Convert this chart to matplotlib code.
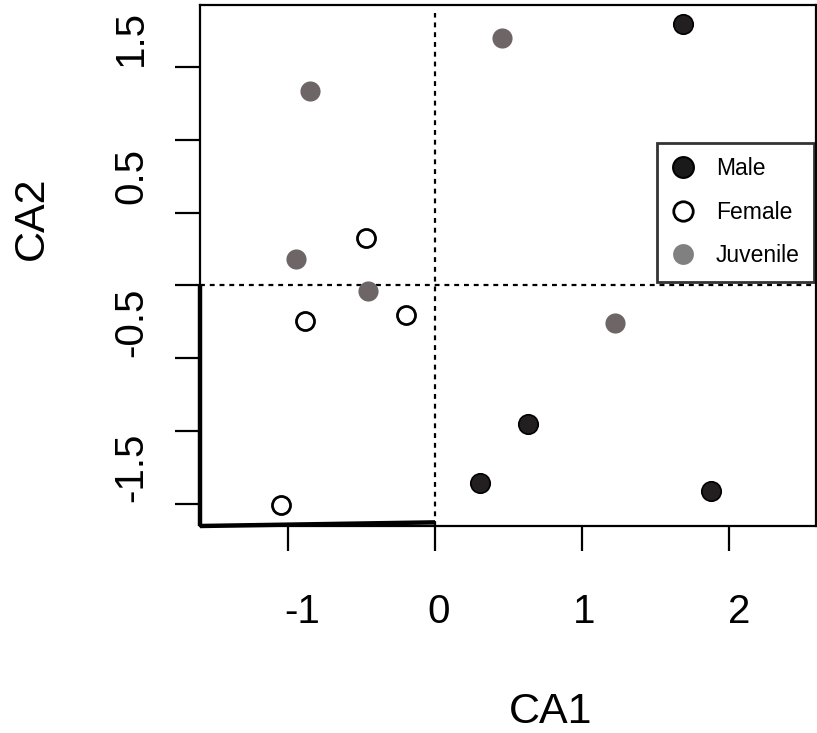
import matplotlib
matplotlib.use("Agg")
import matplotlib.pyplot as plt
from matplotlib.lines import Line2D
from matplotlib.transforms import ScaledTranslation

plt.rcParams['font.family'] = ['Liberation Sans', 'DejaVu Sans']

# ---- data ----
male_x = [1.687, 0.633, 0.306, 1.878]
male_y = [1.795, -0.951, -1.356, -1.410]
female_x = [-0.469, -0.884, -0.197, -1.048]
female_y = [0.326, -0.244, -0.202, -1.507]
juv_x = [-0.850, 0.456, -0.946, -0.456, 1.224]
juv_y = [1.335, 1.699, 0.182, -0.038, -0.257]

xtick_values = [-1, 0, 1, 2]
xtick_labels = ['-1', '0', '1', '2']
ytick_marks = [1.5, 1.0, 0.5, 0.0, -0.5, -1.0, -1.5]
ytick_label_pos = [1.70, 0.75, -0.25, -1.25]
ytick_labels = ['1.5', '0.5', '-0.5', '-1.5']
legend_labels = ['Male', 'Female', 'Juvenile']

fig = plt.figure(figsize=(8.17, 7.33), dpi=100)
W, H = 817, 733
ax = fig.add_axes([200 / W, 1 - 526 / H, (816 - 200) / W, (526 - 5) / H])
ax.set_xlim(-1.599, 2.592)
ax.set_ylim(-1.651, 1.925)

for s in ax.spines.values():
    s.set_linewidth(1.6)
    s.set_color('black')

# reference dashed lines
ax.axhline(0, color='black', lw=1.6, ls=(0, (2.2, 2.2)), zorder=1)
ax.axvline(0, color='black', lw=1.6, ls=(0, (2.2, 2.2)), ymin=0, ymax=0.985, zorder=1)

# thicker hand-drawn axis segments
xl, yl = ax.get_xlim(), ax.get_ylim()
ax.plot([xl[0], xl[0]], [0, yl[0]], color='black', lw=3.2, clip_on=False, zorder=3, solid_capstyle='butt')
ax.plot([xl[0], 0], [yl[0], yl[0] + 0.025], color='black', lw=3.2, clip_on=False, zorder=3, solid_capstyle='butt')

ms = 14
ax.plot(male_x, male_y, 'o', ms=ms, mfc='#231f20', mec='black', mew=1.2, ls='none', zorder=4)
ax.plot(female_x, female_y, 'o', ms=ms - 1, mfc='white', mec='black', mew=2.0, ls='none', zorder=4)
ax.plot(juv_x, juv_y, 'o', ms=ms + 0.5, mfc='#6e6567', mec='none', ls='none', zorder=4)

# x ticks
ax.set_xticks(xtick_values)
ax.set_xticklabels(xtick_labels, fontsize=29)
ax.tick_params(axis='x', length=18, width=1.6, pad=30)
for lbl, dx in zip(ax.get_xticklabels(), [14, 4, 2, 10]):
    lbl.set_transform(lbl.get_transform() + ScaledTranslation(dx / 100, 0, fig.dpi_scale_trans))

# y ticks: marks as minor, labels as major
ax.set_yticks(ytick_marks, minor=True)
ax.set_yticks(ytick_label_pos)
ax.set_yticklabels(ytick_labels, fontsize=29, rotation=90, va='center')
ax.tick_params(axis='y', which='minor', length=18, width=1.6)
ax.tick_params(axis='y', which='major', length=0, pad=36)

ax.set_xlabel('CA1', fontsize=31)
ax.set_ylabel('CA2', fontsize=31)
ax.xaxis.set_label_coords((551 - 200) / 616, -(712 - 526) / 521, transform=ax.transAxes)
ax.yaxis.set_label_coords((32 - 200) / 616, (526 - 218) / 521, transform=ax.transAxes)
ax.xaxis.label.set_va('center')
ax.yaxis.label.set_va('center')

handles = [
    Line2D([], [], marker='o', ls='none', ms=15, mfc='#1a1a1a', mec='black', mew=1.5),
    Line2D([], [], marker='o', ls='none', ms=14, mfc='white', mec='black', mew=2.0),
    Line2D([], [], marker='o', ls='none', ms=15, mfc='#808080', mec='none'),
]
leg = ax.legend(handles, legend_labels, loc='upper right', bbox_to_anchor=(814 / W, 1 - 143 / H),
                bbox_transform=fig.transFigure, fontsize=16.5, frameon=True, fancybox=False,
                edgecolor='black', borderpad=0.62, labelspacing=0.9, handletextpad=0.95,
                handlelength=1.0, borderaxespad=0)
leg.get_frame().set_linewidth(2.0)
leg.set_zorder(5)

fig.savefig('out.png', dpi=100)
